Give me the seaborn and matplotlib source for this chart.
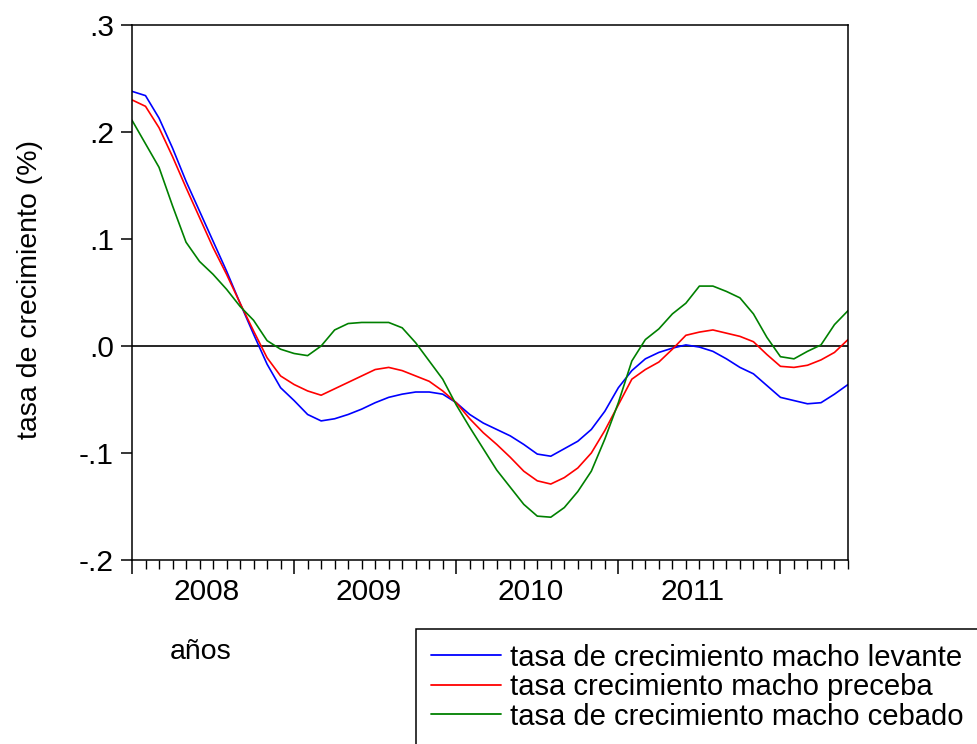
import numpy as np
import pandas as pd
import matplotlib
matplotlib.use("Agg")
import matplotlib.pyplot as plt
import seaborn as sns
from matplotlib.ticker import FixedLocator, FuncFormatter

sns.set_theme(style="white")
plt.rcParams['font.family'] = ['Liberation Sans', 'DejaVu Sans']
plt.rcParams.update({"text.color": "black", "axes.labelcolor": "black",
                     "xtick.color": "black", "ytick.color": "black"})

# datos mensuales, ene-2008 a jun-2012
years = ["2008", "2009", "2010", "2011"]
levante = [0.238, 0.234, 0.213, 0.185, 0.154, 0.126, 0.098, 0.070, 0.040, 0.011,
           -0.017, -0.039, -0.051, -0.064, -0.070, -0.068, -0.064, -0.059, -0.053, -0.048,
           -0.045, -0.043, -0.043, -0.045, -0.053, -0.064, -0.072, -0.078, -0.084, -0.092,
           -0.101, -0.103, -0.096, -0.089, -0.078, -0.061, -0.039, -0.023, -0.012, -0.006,
           -0.002, 0.001, -0.001, -0.005, -0.012, -0.020, -0.026, -0.037, -0.048, -0.051,
           -0.054, -0.053, -0.045, -0.036]
preceba = [0.230, 0.224, 0.204, 0.177, 0.148, 0.120, 0.092, 0.067, 0.040, 0.014,
           -0.011, -0.028, -0.036, -0.042, -0.046, -0.040, -0.034, -0.028, -0.022, -0.020,
           -0.023, -0.028, -0.033, -0.042, -0.053, -0.068, -0.081, -0.092, -0.104, -0.117,
           -0.126, -0.129, -0.123, -0.114, -0.100, -0.079, -0.055, -0.031, -0.022, -0.015,
           -0.003, 0.010, 0.013, 0.015, 0.012, 0.009, 0.004, -0.008, -0.019, -0.020,
           -0.018, -0.013, -0.006, 0.006]
cebado = [0.211, 0.189, 0.167, 0.131, 0.097, 0.079, 0.067, 0.053, 0.037, 0.024,
          0.005, -0.003, -0.007, -0.009, 0.000, 0.015, 0.021, 0.022, 0.022, 0.022,
          0.017, 0.003, -0.014, -0.031, -0.055, -0.076, -0.096, -0.116, -0.132, -0.148,
          -0.159, -0.160, -0.151, -0.136, -0.117, -0.087, -0.053, -0.014, 0.006, 0.016,
          0.030, 0.040, 0.056, 0.056, 0.051, 0.045, 0.030, 0.008, -0.010, -0.012,
          -0.005, 0.001, 0.020, 0.033]

names = ["tasa de crecimiento macho levante",
         "tasa crecimiento macho preceba",
         "tasa de crecimiento macho cebado"]
colores = ["#0000ff", "#ff0000", "#008000"]

n = len(levante)
df = pd.DataFrame({"mes": np.arange(n), names[0]: levante,
                   names[1]: preceba, names[2]: cebado})
df_long = df.melt(id_vars="mes", var_name="serie", value_name="tasa")

fig = plt.figure(figsize=(9.77, 7.44), dpi=100)
ax = fig.add_axes([132 / 977, 1 - 560 / 744, 716 / 977, 535 / 744])

sns.lineplot(data=df_long, x="mes", y="tasa", hue="serie", hue_order=names,
             palette=dict(zip(names, colores)), linewidth=1.2, ax=ax, legend=False)
ax.axhline(0, color="black", linewidth=1.2, zorder=1)

ax.set_xlim(0, n - 1)
ax.set_ylim(-0.2, 0.3)
for s in ax.spines.values():
    s.set_color("black")
    s.set_linewidth(1.1)

# eje y
ax.set_yticks([-0.2, -0.1, 0.0, 0.1, 0.2, 0.3])
ax.yaxis.set_major_formatter(FuncFormatter(lambda v, p: f"{v:.1f}".replace("0.", ".")))
ax.tick_params(axis="y", which="major", left=True, direction="out", length=8,
               width=1.1, color="black", labelsize=21.5, pad=5)

# eje x: marcas anuales y mensuales
ax.xaxis.set_major_locator(FixedLocator(np.arange(0, n, 12)))
ax.xaxis.set_minor_locator(FixedLocator(np.arange(n)))
ax.tick_params(axis="x", which="major", bottom=True, direction="out", length=10,
               width=1.1, color="black", labelbottom=False)
ax.tick_params(axis="x", which="minor", bottom=True, direction="out", length=6.5,
               width=1.0, color="black")
sec = ax.secondary_xaxis("bottom")
sec.set_xticks(np.arange(len(years)) * 12 + 5.5, labels=years)
sec.tick_params(length=0, labelsize=21.5, pad=13, labelcolor="black")
sec.spines["bottom"].set_visible(False)

ax.set_xlabel("años", fontsize=20.5, ha="left", va="center")
ax.xaxis.set_label_coords(0.053, -0.172)
ax.set_ylabel("tasa de crecimiento (%)", fontsize=20.5, va="center")
ax.yaxis.set_label_coords(-0.142, 0.505)

handles = [plt.Line2D([], [], color=c, linewidth=1.3) for c in colores]
leg = fig.legend(handles, names, loc="upper left",
                 bbox_to_anchor=(416 / 977, 1 - 629 / 744), fontsize=21.1,
                 frameon=True, fancybox=False, edgecolor="black", framealpha=1,
                 handlelength=2.4, handletextpad=0.3, labelspacing=0.05,
                 borderpad=0.5, borderaxespad=0)
leg.get_frame().set_linewidth(1.1)

fig.savefig("out.png", dpi=100)
